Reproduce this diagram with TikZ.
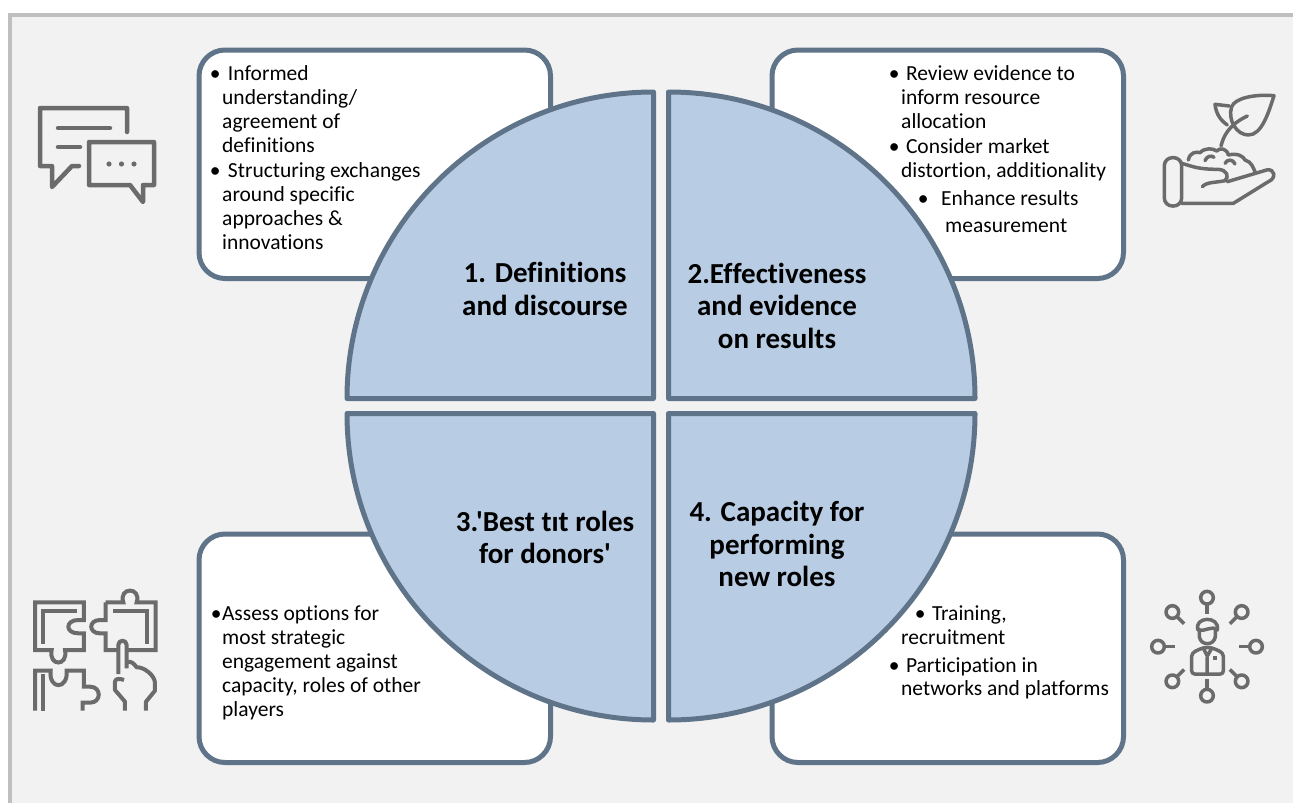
\documentclass[tikz,border=0pt]{standalone}
\usepackage{fontspec}
\setmainfont{Carlito}[Ligatures={TeXOff,NoCommon}]
\definecolor{panelgray}{HTML}{F2F2F2}
\definecolor{panelline}{HTML}{BFBFBF}
\definecolor{slateline}{HTML}{5F7489}
\definecolor{quadblue}{HTML}{B8CCE4}
\definecolor{icongray}{HTML}{6B6B6B}
\tikzset{
 roundbox/.style={draw=slateline, fill=white, line width=5pt, rounded corners=26pt},
 quadrant/.style={draw=slateline, fill=quadblue, line width=5pt, line join=round},
 icon/.style={draw=icongray, line width=4pt, line cap=round, line join=round},
 bullettext/.style={inner sep=0, anchor=north west, align=left, font=\fontsize{21.5}{24}\selectfont},
 quadtitle/.style={inner sep=0, align=center, font=\fontsize{29}{32.5}\selectfont\bfseries},
}
\begin{document}
\begin{tikzpicture}[x=1pt, y=1pt, yscale=-1]
\useasboundingbox (0,0) rectangle (1293,803);
\fill[panelgray] (10,15) rectangle (1293,803);
\draw[panelline, line width=4pt] (10,803)--(10,15)--(1293,15);
% boxes
\foreach \x in {199, 772} {
 \foreach \y in {50, 534} {
  \draw[roundbox] (\x,\y) rectangle ++(351.5,228.5);
 }
}
% quarter discs
\draw[quadrant] (653.5,398.5)--++(-306.5,0) arc[start angle=180, end angle=270, radius=306.5]--cycle;
\draw[quadrant] (668.5,398.5)--++(306.5,0) arc[start angle=0, end angle=-90, radius=306.5]--cycle;
\draw[quadrant] (653.5,413.5)--++(-306.5,0) arc[start angle=180, end angle=90, radius=306.5]--cycle;
\draw[quadrant] (668.5,413.5)--++(306.5,0) arc[start angle=0, end angle=90, radius=306.5]--cycle;
% titles
\node[quadtitle] (defs) at (545,289) {1. Definitions\\and discourse};
\node[quadtitle] (effect) at (777,305.5) {2.Effectiveness\\and evidence\\on results};
\node[quadtitle] (bestfit) at (545,537.5) {3.'Best tıt roles\\for donors'};
\node[quadtitle] (capacity) at (777,544) {4. Capacity for\\performing\\new roles};
% box texts
\node[bullettext] (defsa) at (209.6,65) {•\hspace{7.5pt}Informed\\\hspace*{12.4pt}understanding/\\\hspace*{12.4pt}agreement of\\\hspace*{12.4pt}definitions};
\node[bullettext] (defsb) at (209.6,162) {•\hspace{7.5pt}Structuring exchanges\\\hspace*{12.4pt}around specific\\\hspace*{12.4pt}approaches \&\\\hspace*{12.4pt}innovations};
\node[bullettext] (effecta) at (888.6,65) {•\hspace{6.5pt}Review evidence to\\\hspace*{12.4pt}inform resource\\\hspace*{12.4pt}allocation};
\node[bullettext] (effectb) at (888.6,138) {•\hspace{6.5pt}Consider market\\\hspace*{12.4pt}distortion, additionality};
\node[bullettext] (effectc) at (917.6,190) {•\hspace{12.5pt}Enhance results};
\node[bullettext] (effectd) at (945,219) {measurement};
\node[bullettext] (bestfita) at (210.6,605) {•\hspace{.5pt}Assess options for\\\hspace*{11.4pt}most strategic\\\hspace*{11.4pt}engagement against\\\hspace*{11.4pt}capacity, roles of other\\\hspace*{11.4pt}players};
\node[bullettext] (capacitya) at (914.6,606) {•\hspace{6.5pt}Training,};
\node[bullettext] (capacityb) at (901,630) {recruitment};
\node[bullettext] (capacityc) at (888.6,657) {•\hspace{6.5pt}Participation in\\\hspace*{12.4pt}networks and platforms};
% chat icon
\draw[icon, line width=4.5pt] (127,132)--(127,108)--(40,108)--(40,166)--(52,166)--(52,187)--(72,166)--(79,166);
\draw[icon, line width=4.5pt] (58,128)--(110,128) (58,147)--(80,147);
\draw[icon, line width=4.5pt] (89,142)--(154,142)--(154,185)--(143,185)--(143,202)--(130,185)--(89,185)--cycle;
\foreach \x in {109,121.5,134} {
 \fill[icongray] (\x,164) circle (2.6);
}
% plant icon
\begin{scope}[shift={(1140,70)}, scale=1/3]
\draw[icon, line width=3.5pt, rounded corners=8pt] (73,263) rectangle (125,408);
\draw[icon, line width=3.5pt] (125,280) .. controls (160,290) and (175,298) .. (235,298) .. controls (262,300) and (268,320) .. (255,332) .. controls (230,338) and (200,335) .. (187,350);
\draw[icon, line width=3.5pt] (262,335)--(380,300) .. controls (405,295) and (410,325) .. (385,335)--(280,400)--(125,400);
\draw[icon, line width=3.5pt] (145,270) .. controls (150,245) and (170,245) .. (180,248) .. controls (195,232) and (220,235) .. (230,243) .. controls (240,232) and (260,235) .. (265,255) .. controls (295,248) and (310,260) .. (315,270) .. controls (335,275) and (340,295) .. (345,305);
\draw[icon, line width=3.5pt] (195,272) .. controls (200,258) and (215,255) .. (222,262) (255,280) .. controls (262,266) and (280,268) .. (285,282);
\draw[icon, line width=3.5pt] (243,228) .. controls (250,200) and (265,165) .. (322,138);
\draw[icon, line width=3.5pt] (402,77) .. controls (340,72) and (285,85) .. (275,110) .. controls (262,150) and (290,195) .. (325,195) .. controls (365,195) and (385,130) .. (402,77)--cycle;
\draw[icon, line width=3.5pt] (268,108)--(225,103) .. controls (228,130) and (240,150) .. (262,165);
\end{scope}
% puzzle icon
\begin{scope}[shift={(10,570)}, scale=1/3]
\draw[icon, line cap=butt, line join=miter] (75,97)--(222,97)--(222,150)--(205,150) .. controls (165,150) and (165,190) .. (205,190)--(222,190)--(222,240)--(165,240) .. controls (175,290) and (115,290) .. (125,240)--(75,240)--cycle;
\draw[icon, line cap=butt, line join=miter] (202,122)--(100,122)--(100,222);
\draw[icon, line cap=butt, line join=miter] (287,97)--(340,97) .. controls (325,50) and (395,50) .. (380,97)--(437,97)--(437,240)--(350,240);
\draw[icon, line cap=butt, line join=miter] (322,240)--(287,240)--(287,190)--(270,190) .. controls (235,190) and (235,150) .. (270,150)--(287,150)--(287,97);
\draw[icon, line cap=butt, line join=miter] (310,122)--(410,122)--(410,222);
\draw[icon, line cap=butt] (325,312)--(325,225) .. controls (325,208) and (350,208) .. (350,225)--(350,295);
\draw[icon, line cap=butt] (350,278) .. controls (362,268) and (375,285) .. (380,292) .. controls (400,290) and (435,315) .. (435,340)--(435,362)--(408,395)--(408,422);
\draw[icon, line cap=butt] (345,422)--(345,395)--(315,360)--(315,335) .. controls (315,325) and (330,325) .. (342,330);
\draw[icon, line cap=butt, line join=miter] (75,422)--(75,302)--(122,302) .. controls (115,360) and (175,360) .. (170,302)--(222,302)--(222,350)--(240,350) .. controls (275,350) and (275,398) .. (240,398)--(218,398)--(218,422);
\draw[icon, line cap=butt] (100,422)--(100,312);
\end{scope}
% network icon
\begin{scope}[shift={(1130,570)}, scale=1/3]
\foreach \a in {0,45,...,315} {
 \draw[icon, line width=3.5pt] (231,230)++(\a:147) circle (19);
 \draw[icon, line width=3.5pt, line cap=butt] (231,230)++(\a:127)--++(\a:-30);
}
\draw[icon, line width=3.5pt] (208,178)--(208,200) .. controls (212,228) and (252,228) .. (256,200)--(256,178);
\draw[icon, line width=3.5pt] (204,180) .. controls (190,140) and (270,135) .. (262,180) .. controls (245,165) and (230,185) .. (204,180)--cycle;
\draw[icon, line width=3.5pt, rounded corners=3pt] (185,312)--(185,268) .. controls (185,245) and (205,240) .. (218,233)--(246,233) .. controls (260,240) and (280,245) .. (280,268)--(280,312)--cycle;
\draw[icon, line width=3.5pt] (231,262)--(231,312) (220,235)--(232,258)--(245,235);
\fill[icongray] (248,258) rectangle (260,270);
\end{scope}
\end{tikzpicture}
\end{document}
